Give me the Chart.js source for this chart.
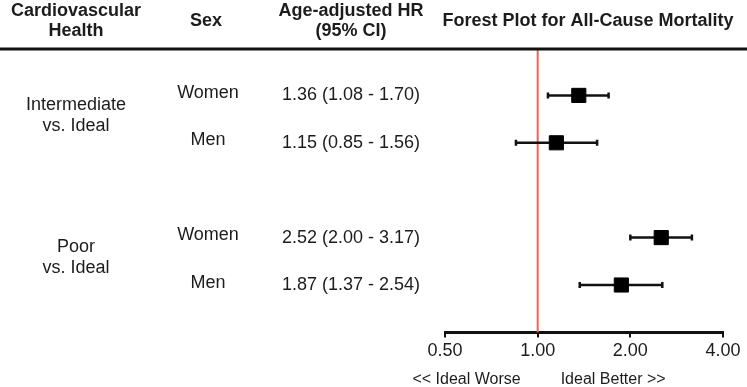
<!DOCTYPE html>
<html>
<head>
<meta charset="utf-8">
<script src="https://cdn.jsdelivr.net/npm/chart.js@4/dist/chart.umd.min.js"></script>
<style>
  html, body { margin: 0; padding: 0; background: #fff; }
  #wrap { width: 747px; height: 387px; position: relative; }
</style>
</head>
<body>
<div id="wrap"><canvas id="forest" width="747" height="387"></canvas></div>
<script>
// 数据
const groups = [['Intermediate', 'vs. Ideal'], ['Poor', 'vs. Ideal']];
const sexes = ['Women', 'Men', 'Women', 'Men'];
const hr = [1.36, 1.15, 2.52, 1.87];
const lo = [1.08, 0.85, 2.00, 1.37];
const hi = [1.70, 1.56, 3.17, 2.54];
const rowPos = [1, 2, 4, 5];
const xTicks = [0.5, 1, 2, 4];
const headers = [
    { lines: ['Cardiovascular', 'Health'], x: 76 },
    { lines: ['Sex'], x: 206 },
    { lines: ['Age-adjusted HR', '(95% CI)'], x: 351 },
    { lines: ['Forest Plot for All-Cause Mortality'], x: 588 },
];
const bottomLabels = ['<< Ideal Worse', 'Ideal Better >>'];

const FONT = "'Liberation Sans', Arial, Helvetica, sans-serif";
const INK = '#1c1c1c';
const RED = '#ec6456';

// 表格文字 + 表头线
const tablePlugin = {
    id: 'tableText',
    afterDraw(chart) {
        const ctx = chart.ctx;
        const xs = chart.scales.x, ys = chart.scales.y;
        ctx.save();
        ctx.fillStyle = INK;

        // 表头
        ctx.font = 'bold 18px ' + FONT;
        ctx.textAlign = 'center';
        ctx.textBaseline = 'alphabetic';
        headers.forEach(h => {
            if (h.lines.length === 2) {
                ctx.fillText(h.lines[0], h.x, 16);
                ctx.fillText(h.lines[1], h.x, 36);
            } else {
                ctx.fillText(h.lines[0], h.x, 26);
            }
        });

        // 表头下横线
        ctx.strokeStyle = '#111';
        ctx.lineWidth = 3;
        ctx.beginPath();
        ctx.moveTo(0, 49);
        ctx.lineTo(747, 49);
        ctx.stroke();

        ctx.font = '18px ' + FONT;
        // 分组
        groups.forEach((g, i) => {
            const yc = ys.getPixelForValue((rowPos[i * 2] + rowPos[i * 2 + 1]) / 2);
            ctx.textAlign = 'center';
            ctx.fillText(g[0], 76, yc - 9);
            ctx.fillText(g[1], 76, yc + 12);
        });
        // 性别 + HR
        sexes.forEach((s, i) => {
            const y = ys.getPixelForValue(rowPos[i]);
            ctx.textAlign = 'center';
            ctx.fillText(s, 208, y + 2.5);
            ctx.textAlign = 'left';
            ctx.fillText(`${hr[i].toFixed(2)} (${lo[i].toFixed(2)} - ${hi[i].toFixed(2)})`, 282, y + 5);
        });

        // 底部说明
        const x1 = xs.getPixelForValue(1);
        ctx.font = '16px ' + FONT;
        ctx.textAlign = 'right';
        ctx.fillText(bottomLabels[0], x1 - 17, 384);
        ctx.textAlign = 'left';
        ctx.fillText(bottomLabels[1], x1 + 23, 384);
        ctx.restore();
    },
};

const ciSets = hr.map((v, i) => ({
    label: 'ci' + i,
    data: [{ x: lo[i], y: rowPos[i] }, { x: hi[i], y: rowPos[i] }],
    showLine: true,
    borderColor: '#111',
    backgroundColor: '#111',
    borderWidth: 2.5,
    pointStyle: 'line',
    rotation: 90,
    pointRadius: 3,
    pointBorderWidth: 2.5,
    order: 2,
}));

new Chart(document.getElementById('forest'), {
    type: 'scatter',
    data: {
        datasets: [
            {
                label: 'ref',
                data: [{ x: 1, y: 0 }, { x: 1, y: 6 }],
                showLine: true,
                borderColor: RED,
                borderWidth: 2,
                pointRadius: 0,
                order: 3,
            },
            ...ciSets,
            {
                label: 'HR',
                data: hr.map((v, i) => ({ x: v, y: rowPos[i] })),
                pointStyle: 'rect',
                pointRadius: 10,
                backgroundColor: '#000',
                borderColor: '#000',
                borderWidth: 1,
                order: 1,
            },
        ],
    },
    options: {
        responsive: false,
        animation: false,
        devicePixelRatio: 1,
        layout: { padding: { left: 445, right: 24, top: 48, bottom: 22 } },
        plugins: { legend: { display: false }, tooltip: { enabled: false } },
        scales: {
            x: {
                type: 'logarithmic',
                min: 0.5,
                max: 4,
                afterBuildTicks: (axis) => { axis.ticks = xTicks.map(v => ({ value: v })); },
                ticks: {
                    callback: (v) => Number(v).toFixed(2),
                    font: { family: FONT, size: 18 },
                    color: INK,
                    padding: 3,
                    maxRotation: 0,
                    autoSkip: false,
                },
                grid: { drawOnChartArea: false, tickLength: 5, color: '#111', lineWidth: 2 },
                border: { color: '#111', width: 3 },
            },
            y: {
                display: false,
                min: 0,
                max: 6,
                reverse: true,
            },
        },
    },
    plugins: [tablePlugin],
});
</script>
</body>
</html>
